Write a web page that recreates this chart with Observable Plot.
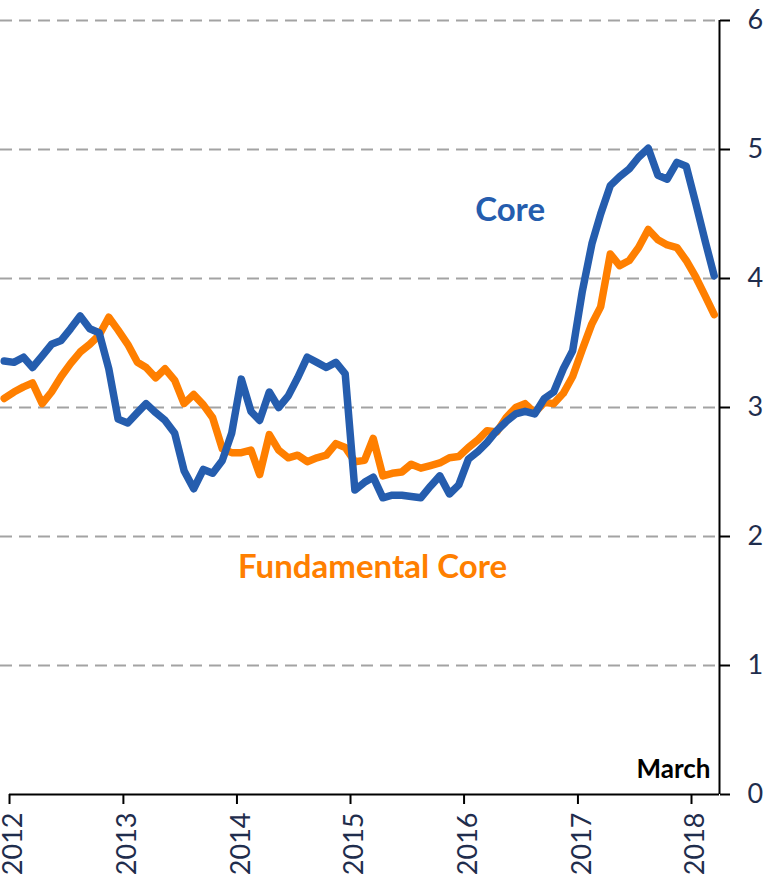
<!DOCTYPE html>
<html>
<head>
<meta charset="utf-8">
<script src="https://cdn.jsdelivr.net/npm/d3@7"></script>
<script src="https://cdn.jsdelivr.net/npm/@observablehq/plot@0.6"></script>
<style>
  html, body { margin: 0; padding: 0; background: #fff; }
  #chart svg { display: block; }
</style>
</head>
<body>
<div id="chart"></div>
<script>
// Monthly observations, Dec 2011 .. Mar 2018 (76 months)
const firstMonth = "2011-12";
const lastMonth = "2018-03";

const core = [
  3.36, 3.35, 3.39, 3.31, 3.40, 3.49, 3.52, 3.61, 3.71, 3.61, 3.58, 3.30,
  2.91, 2.88, 2.96, 3.03, 2.96, 2.90, 2.80, 2.51, 2.37, 2.52, 2.49, 2.59,
  2.80, 3.22, 2.97, 2.90, 3.12, 3.00, 3.09, 3.23, 3.39, 3.35, 3.31, 3.35,
  3.26, 2.36, 2.42, 2.46, 2.30, 2.32, 2.32, 2.31, 2.30, 2.39, 2.47, 2.33,
  2.40, 2.60, 2.66, 2.73, 2.82, 2.89, 2.95, 2.97, 2.95, 3.07, 3.12, 3.30,
  3.44, 3.90, 4.27, 4.50, 4.72, 4.79, 4.85, 4.94, 5.01, 4.80, 4.77, 4.90,
  4.87, 4.58, 4.28, 4.02
];

const fundamentalCore = [
  3.07, 3.12, 3.16, 3.19, 3.03, 3.12, 3.24, 3.34, 3.43, 3.49, 3.56, 3.70,
  3.60, 3.49, 3.35, 3.31, 3.23, 3.30, 3.21, 3.03, 3.10, 3.02, 2.92, 2.68,
  2.65, 2.65, 2.67, 2.48, 2.79, 2.67, 2.61, 2.63, 2.58, 2.61, 2.63, 2.72,
  2.69, 2.58, 2.59, 2.76, 2.47, 2.49, 2.50, 2.56, 2.53, 2.55, 2.57, 2.61,
  2.62, 2.69, 2.75, 2.82, 2.81, 2.92, 3.00, 3.03, 2.96, 3.04, 3.03, 3.11,
  3.24, 3.45, 3.65, 3.78, 4.19, 4.10, 4.14, 4.24, 4.38, 4.30, 4.26, 4.24,
  4.14, 4.01, 3.86, 3.72
];

const seriesNames = ["Core", "Fundamental Core"];
const seriesColors = ["#255DAE", "#FF7F00"];
const yearTickLabels = ["2012", "2013", "2014", "2015", "2016", "2017", "2018"];
const yTicks = [0, 1, 2, 3, 4, 5, 6];
const gridTicks = [1, 2, 3, 4, 5, 6];
const endLabel = "March";

// annotation anchors in data space
const coreLabelPos = {date: "2016-05-28", value: 4.53};
const fundLabelPos = {date: "2015-03-13", value: 1.76};
const marchLabelPos = {date: "2018-03-03", value: 0.19};

// x extent (data space)
const xStart = new Date(Date.UTC(2011, 11, 3));
const xEnd = new Date(Date.UTC(2018, 3, 1));

const parseMonth = d3.utcParse("%Y-%m");
const months = d3.utcMonth.range(parseMonth(firstMonth), d3.utcMonth.offset(parseMonth(lastMonth), 1));
const midMonth = m => d3.utcDay.offset(m, 14);

const rows = [];
months.forEach((m, i) => {
  rows.push({date: midMonth(m), value: core[i], series: seriesNames[0]});
});
months.forEach((m, i) => {
  rows.push({date: midMonth(m), value: fundamentalCore[i], series: seriesNames[1]});
});

const yearTicks = yearTickLabels.map(y => new Date(Date.UTC(+y, 0, 1)));
const navy = "#1F2D4D";
const parseDay = d3.utcParse("%Y-%m-%d");

const chart = Plot.plot({
  width: 768,
  height: 887,
  marginTop: 20,
  marginBottom: 93,
  marginLeft: 0,
  marginRight: 49,
  style: {fontFamily: "Lato, 'Open Sans', sans-serif", background: "#fff", overflow: "visible"},
  x: {type: "utc", domain: [xStart, xEnd]},
  y: {domain: [0, 6]},
  color: {domain: seriesNames, range: seriesColors},
  marks: [
    Plot.gridY(gridTicks, {stroke: "#A3A3A3", strokeOpacity: 1, strokeWidth: 2, strokeDasharray: "12,7"}),
    Plot.line(rows.filter(d => d.series === seriesNames[1]), {
      x: "date", y: "value", stroke: seriesColors[1], strokeWidth: 7.5, strokeLinejoin: "round", strokeLinecap: "round", clip: true
    }),
    Plot.line(rows.filter(d => d.series === seriesNames[0]), {
      x: "date", y: "value", stroke: seriesColors[0], strokeWidth: 7.5, strokeLinejoin: "round", strokeLinecap: "round", clip: true
    }),
    Plot.ruleY([0], {x1: yearTicks[0], x2: xEnd, stroke: "#000", strokeWidth: 2}),
    Plot.ruleX([xEnd], {y1: 0, y2: 6, stroke: "#000", strokeWidth: 2}),
    // x tick marks
    Plot.axisX(yearTicks, {
      tickSize: 10, tickFormat: () => "", stroke: "#000", strokeWidth: 2, label: null
    }),
    // x tick labels (rotated)
    Plot.axisX(yearTicks, {
      tickSize: 0, tickPadding: 18, tickRotate: -90, tickFormat: d3.utcFormat("%Y"),
      fontSize: 27, fill: navy, label: null, dx: 4
    }),
    Plot.axisY(yTicks, {
      anchor: "right", tickSize: 10, tickPadding: 18, fontSize: 27, tickFormat: d3.format("d"),
      fill: navy, stroke: "#000", strokeWidth: 2, label: null, textAnchor: "start"
    }),
    Plot.text([seriesNames[0]], {
      x: () => parseDay(coreLabelPos.date), y: () => coreLabelPos.value,
      text: d => d, fill: seriesColors[0], fontSize: 33, fontWeight: "bold", textAnchor: "middle"
    }),
    Plot.text([seriesNames[1]], {
      x: () => parseDay(fundLabelPos.date), y: () => fundLabelPos.value,
      text: d => d, fill: seriesColors[1], fontSize: 33, fontWeight: "bold", textAnchor: "middle"
    }),
    Plot.text([endLabel], {
      x: () => parseDay(marchLabelPos.date), y: () => marchLabelPos.value,
      text: d => d, fill: "#000", fontSize: 26, fontWeight: "bold", textAnchor: "end"
    })
  ]
});

document.getElementById("chart").appendChild(chart);
</script>
</body>
</html>
